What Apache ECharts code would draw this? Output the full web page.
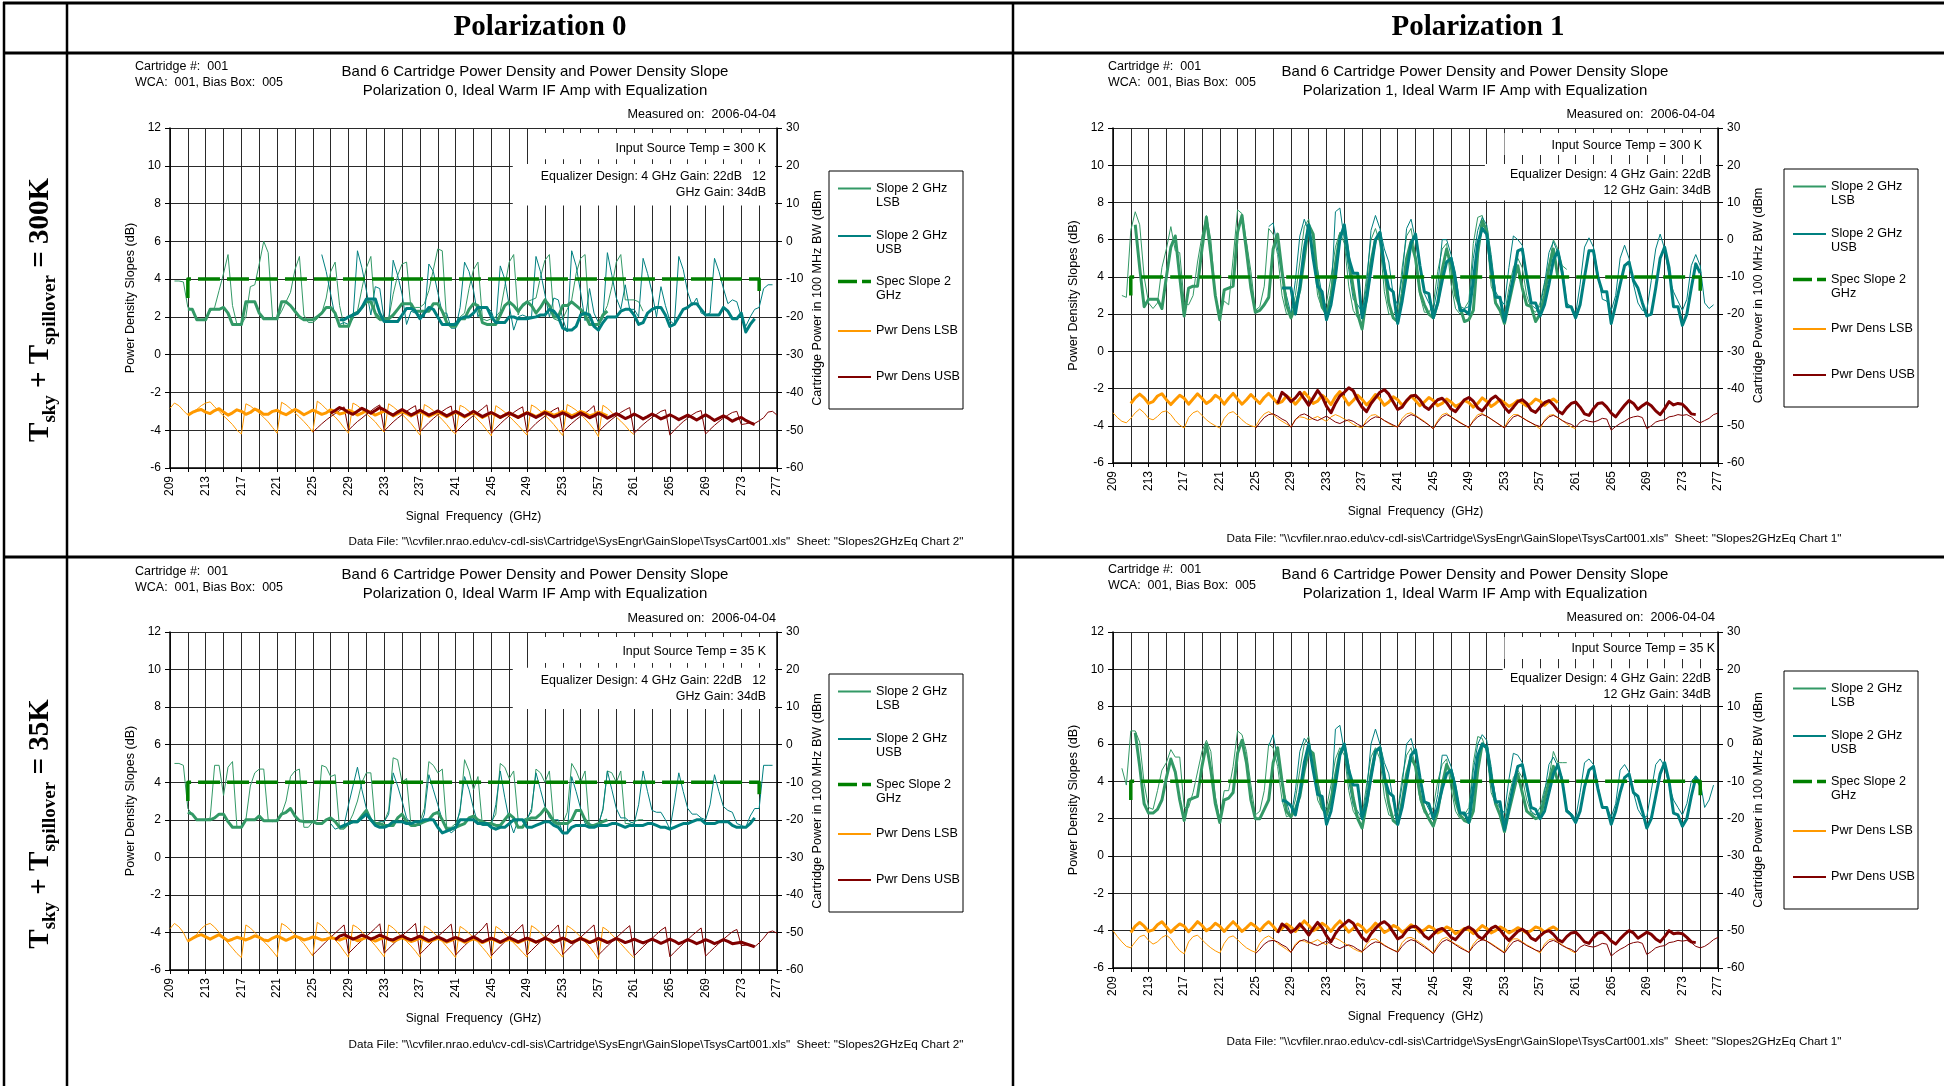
<!DOCTYPE html>
<html>
<head>
<meta charset="utf-8">
<title>Band 6 Cartridge Power Density and Power Density Slope</title>
<script src="https://cdn.jsdelivr.net/npm/echarts@6/dist/echarts.min.js"></script>
<style>
  html, body { margin: 0; padding: 0; background: #fff; }
  #chart { width: 1944px; height: 1086px; }
</style>
</head>
<body>
<div id="chart"></div>
<script>
// ---------------- axes ----------------
const FREQ_MIN = 209, FREQ_MAX = 277, FREQ_STEP = 0.5;   // GHz, traces are sampled every 0.5 GHz
const FREQ_LABELS = [209, 213, 217, 221, 225, 229, 233, 237, 241, 245, 249, 253, 257, 261, 265, 269, 273, 277];
const SLOPE_MIN = -6, SLOPE_MAX = 12, SLOPE_STEP = 2;      // dB
const PWR_MIN = -60, PWR_MAX = 30, PWR_STEP = 10;          // dBm

const SERIES_NAMES = ['Slope 2 GHz LSB', 'Slope 2 GHz USB', 'Spec Slope 2 GHz', 'Pwr Dens LSB', 'Pwr Dens USB'];
const LEGEND_LABELS = ['Slope 2 GHz\nLSB', 'Slope 2 GHz\nUSB', 'Spec Slope 2\nGHz', 'Pwr Dens LSB', 'Pwr Dens USB'];

// spec limit for the 2 GHz slope (dB)
const SPEC_SLOPE = [[211, 3], [211, 4], [275, 4], [275, 3]];

// ---------------- Polarization 0, 300 K ----------------
const P0_300K_SLOPE_LSB_RAW = [3.9,3.9,3.85,2.5,2.4,1.9,1.85,1.9,2.3,2.5,3.4,4.3,5.3,2.6,
  1.6,1.6,2.0,3.6,3.7,4.8,6.0,5.4, 1.9,1.9,2.3,2.8,3.3,4.5,5.2,2.1, 1.7,1.7,1.9,2.2,3.0,4.4,4.9,2.6,
  1.5,1.5,2.2,2.3,3.5,4.6,5.2,2.0, 1.8,1.8,1.9,3.2,4.2,4.8,4.9,2.4, 2.5,2.5,2.7,3.4,4.5,5.6,5.5,1.7,
  1.6,1.7,2.0,2.2,3.5,4.5,4.9,1.9, 1.8,1.9,2.0,2.3,3.6,4.9,5.3,2.1, 2.7,2.8,2.9,3.0,4.1,5.0,5.3,1.9,
  1.8,1.9,2.4,2.9,4.3,5.1,5.3,1.6, 1.5,1.6,2.1,2.6,3.6,4.9,5.3,2.9, 2.9,2.9,2.8,2.3];
const P0_300K_SLOPE_LSB_AVG = [2.4,2.4,1.85,1.85,1.85,2.4,2.4,2.4,2.5, 2.2,1.6,1.6,1.6,2.8,2.8,2.8,2.2,
  1.9,1.9,1.9,1.9,2.8,2.8,2.6,2.3, 2.0,1.85,1.85,1.85,2.0,2.2,2.5,2.5, 2.2,1.5,1.5,1.5,2.1,2.2,2.5,2.8,
  2.8,2.2,1.9,1.9,1.9,2.1,2.4,2.7, 2.7,2.7,2.3,2.3,2.3,2.3,2.7,2.7, 2.3,1.7,1.5,1.5,1.9,1.9,2.4,2.7,
  2.6,1.7,1.6,1.6,1.6,2.1,2.6,2.8, 2.6,2.3,2.6,2.8,2.6,2.2,2.5,2.9, 2.6,2.0,2.0,2.6,2.6,2.8,2.6,2.4,
  2.1,1.6,1.6,1.6,2.1,2.3];
const P0_300K_SLOPE_USB_RAW = [5.3,4.4,3.2,2.0,1.6,1.7,1.6,1.9, 5.5,4.6,3.4,2.1,3.6,3.5,1.8,1.7,
  5.0,4.2,3.2,1.6,2.3,2.2,2.1,2.0, 4.8,4.4,3.3,2.2,2.2,1.4,1.4,2.5, 4.9,4.4,3.4,2.0,2.5,2.5,2.3,1.6,
  4.7,4.0,2.6,1.3,2.0,2.1,2.0,2.0, 5.2,4.4,3.2,2.0,3.0,2.9,1.9,1.2, 5.5,4.7,3.3,1.8,3.5,2.2,1.7,1.9,
  5.4,4.2,3.0,2.4,3.7,2.4,2.4,2.0, 5.1,4.3,3.3,2.0,3.6,2.6,1.8,1.6, 5.2,4.5,3.3,2.6,3.0,2.2,2.1,2.2,
  5.1,4.4,3.5,2.7,2.9,2.8,2.0,1.5, 2.0,2.4,2.5,3.5,3.7,3.7];
const P0_300K_SLOPE_USB_AVG = [1.85,1.85,2.0,2.1,2.2,2.5,2.95,2.95, 2.95,2.2,1.75,1.75,1.75,1.75,2.1,2.45,
  2.45,2.3,1.9,2.2,2.5,2.4,2.0,1.6, 1.6,1.6,1.6,1.9,2.0,2.0,2.2,2.5, 2.5,2.5,2.0,1.7,1.7,1.7,2.0,2.0,
  1.9,1.9,1.9,1.95,2.0,2.1,2.1,2.4, 2.3,2.0,1.4,1.3,1.3,1.5,2.1,2.2, 2.1,1.5,1.3,1.7,2.0,2.0,2.0,2.3,
  2.4,2.4,2.1,1.6,1.7,2.2,2.4,2.5, 2.5,2.1,1.5,1.6,2.0,2.4,2.5,2.7, 2.7,2.4,2.1,2.1,2.1,2.1,2.5,2.3,
  1.9,1.9,2.2,1.2,1.6,1.9];
const P0_300K_PWR_LSB_RAW = [-44.2,-42.8,-43.5,-44.8,-46.0,-45.2,-44.5,-43.5, -42.8,-42.5,-43.8,-45.0,-46.2,-47.3,-48.5,-50.0,
  -51.0,-43.0,-43.6,-44.5,-45.5,-46.6,-47.8,-49.3, -50.8,-42.6,-43.3,-44.3,-45.4,-46.5,-47.7,-49.0,
  -50.5,-42.3,-43.2,-44.4,-45.5,-46.5,-47.8,-49.4, -50.8,-42.8,-43.5,-44.5,-45.6,-46.7,-47.8,-49.3,
  -50.5,-43.0,-43.8,-44.8,-45.8,-47.0,-48.2,-49.7, -51.3,-43.2,-43.9,-44.8,-46.0,-47.2,-48.5,-50.0,
  -51.0,-43.4,-44.0,-45.0,-46.0,-47.3,-48.5,-50.0, -51.5,-43.5,-44.3,-45.2,-46.3,-47.5,-48.7,-50.0,
  -51.3,-43.3,-44.0,-45.0,-46.0,-47.2,-48.5,-50.0, -51.4,-43.2,-43.9,-44.7,-45.8,-47.0,-48.3,-49.8,
  -51.7,-43.4,-44.2,-45.3,-46.5,-47.6,-48.8,-50.2, -51.2];
const P0_300K_PWR_LSB_AVG = [-46.0,-45.3,-44.8,-44.5,-45.2,-45.6,-44.8,-44.3, -45.2,-46.0,-45.4,-44.6,-45.0,-45.8,-45.3,-44.4,
  -44.9,-45.8,-45.8,-45.0,-44.7,-45.4,-45.9,-45.2, -44.5,-45.1,-45.9,-45.3,-44.7,-45.2,-45.8,-45.4,
  -44.6,-45.0,-45.7,-45.4,-44.7,-45.2,-46.0,-45.5, -44.8,-45.3,-46.0,-45.5,-44.9,-45.4,-46.2,-45.6,
  -45.0,-45.6,-46.2,-45.6,-45.1,-45.6,-46.3,-45.8, -45.2,-45.8,-46.4,-45.8,-45.2,-45.8,-46.5,-45.9,
  -45.3,-45.9,-46.6,-46.0,-45.4,-46.0,-46.6,-46.0, -45.4,-46.0,-46.6,-45.9,-45.3,-45.8,-46.4,-45.8,
  -45.0,-45.4,-46.1,-45.6,-45.0,-45.5,-46.2,-45.7, -45.0,-45.5,-46.2,-45.8,-45.2,-45.7,-46.2];
const P0_300K_PWR_USB_RAW = [-50.5,-49.4,-48.3,-47.3,-46.4,-45.6,-44.8,-43.8, -50.0,-48.8,-47.7,-46.8,-45.8,-44.9,-44.0,-43.3,
  -50.2,-49.0,-47.8,-46.8,-45.9,-45.0,-44.2,-43.5, -50.4,-49.2,-48.0,-46.9,-45.9,-45.0,-44.2,-43.6,
  -50.6,-49.4,-48.2,-47.1,-46.1,-45.2,-44.3,-43.3, -50.8,-49.5,-48.3,-47.2,-46.2,-45.3,-44.5,-43.8,
  -50.6,-49.4,-48.2,-47.2,-46.3,-45.4,-44.6,-44.0, -50.5,-49.3,-48.2,-47.2,-46.3,-45.5,-44.6,-43.5,
  -50.4,-49.2,-48.1,-47.1,-46.2,-45.3,-44.6,-44.0, -50.8,-49.6,-48.5,-47.5,-46.6,-45.8,-45.0,-44.6,
  -51.3,-50.0,-48.8,-47.7,-46.8,-45.9,-45.2,-44.8, -51.0,-49.8,-48.7,-47.7,-46.8,-46.0,-45.3,-45.0,
  -48.5,-48.3,-48.0,-48.2,-47.5,-46.7,-45.2,-45.0,-46.0];
const P0_300K_PWR_USB_AVG = [-45.5,-44.8,-44.0,-44.5,-45.3,-45.8,-45.0,-44.2, -44.8,-45.5,-44.8,-44.0,-44.6,-45.4,-46.0,-45.2,
  -44.5,-45.2,-46.0,-45.4,-44.7,-45.3,-46.0,-45.5, -44.9,-45.5,-46.2,-45.6,-45.0,-45.6,-46.3,-45.7,
  -45.0,-45.7,-46.4,-45.8,-45.3,-45.9,-46.6,-46.0, -45.4,-46.0,-46.6,-46.0,-45.4,-46.0,-46.6,-46.0,
  -45.3,-45.9,-46.5,-46.0,-45.4,-46.0,-46.7,-46.1, -45.4,-46.0,-46.7,-46.2,-45.5,-46.1,-46.8,-46.2,
  -45.6,-46.2,-46.9,-46.4,-45.7,-46.3,-47.0,-46.4, -45.7,-46.3,-47.0,-46.5,-45.9,-46.5,-47.2,-46.6,
  -46.0,-46.6,-47.3,-46.6,-45.9,-46.6,-47.4,-46.8, -46.2,-46.8,-47.6,-47.0,-46.6,-47.4,-48.0,-48.5];

// ---------------- Polarization 1, 300 K ----------------
const P1_300K_SLOPE_LSB_RAW = [3.0,2.9,6.5,7.5,6.8,4.0,2.6,2.3, 2.6,4.5,5.5,6.7,5.4,5.3,2.6,2.5,
  3.0,4.8,6.2,7.3,6.0,3.0,2.0,2.7, 2.5,5.0,7.6,7.4,5.9,4.3,2.2,2.4, 3.5,6.6,6.3,5.2,3.0,2.0,2.0,3.0,
  4.8,6.7,7.1,5.2,3.0,2.3,2.6,4.0, 5.6,6.4,5.8,3.5,2.2,1.8,2.1,4.0, 6.0,6.6,5.8,3.2,2.0,2.0,2.3,4.5,
  6.2,6.6,5.2,3.0,2.1,2.1,2.5,4.3, 5.5,5.8,3.6,2.3,2.0,2.3,2.7,5.8, 7.2,7.3,6.3,3.5,2.9,2.8,2.0,3.4,
  4.5,5.0,4.5,3.0,2.3,2.1,2.6,3.7, 4.6,6.0,5.5,4.6,4.4];
const P1_300K_SLOPE_LSB_AVG = [6.8,4.5,2.4,2.8,2.8,2.8,2.3,4.0, 5.6,6.2,4.0,1.9,3.4,3.5,3.5,5.5,
  7.2,5.2,3.0,1.7,3.3,3.4,3.5,6.4, 7.3,5.4,3.4,2.1,2.2,2.5,2.9,5.5, 6.3,4.3,2.5,1.8,2.4,3.3,5.0,6.8,
  6.3,3.8,2.4,2.0,3.0,4.7,6.2,6.6, 5.0,3.4,2.0,1.2,2.9,4.8,6.0,6.2, 4.5,2.6,1.8,1.6,3.1,5.0,5.9,5.0,
  3.2,2.5,2.0,1.8,2.6,4.4,5.5,4.6, 3.0,2.4,1.6,1.7,2.2,5.3,7.0,6.5, 4.5,2.6,2.2,1.5,2.6,3.7,4.6,3.4,
  2.5,2.4,1.6,2.0,3.0,4.5,5.5,4.0];
const P1_300K_SLOPE_USB_RAW = [6.7,6.9,5.5,4.0,3.0,2.0,3.8,6.2, 7.1,6.4,5.0,4.4,3.0,2.2,2.8,7.5,
  7.7,6.0,4.4,2.8,2.5,2.1,3.5,6.5, 7.3,6.6,5.5,4.8,3.0,2.5,4.0,6.6, 7.1,6.0,4.5,3.1,2.6,2.2,3.5,6.0,
  6.0,5.2,4.2,2.4,2.3,2.4,5.0,6.5, 7.2,6.8,5.2,3.2,2.8,2.5,4.5,6.2, 6.0,5.7,4.0,2.5,2.3,2.4,3.6,5.3,
  5.9,5.3,4.5,2.6,2.4,2.0,3.6,5.6, 6.1,5.6,4.2,2.8,2.7,2.2,3.0,5.0, 5.7,5.0,3.6,2.6,2.2,2.2,3.8,5.5,
  6.3,5.5,4.0,3.2,2.7,2.2,2.8,4.6, 5.2,4.6,2.6,2.3,2.5];
const P1_300K_SLOPE_USB_AVG = [3.4,3.4,3.4,2.0,3.5,5.5,6.8,5.0, 3.5,3.2,1.7,2.5,4.0,6.0,6.8,5.0,
  4.2,4.2,1.8,2.8,4.4,6.0,6.4,4.5, 3.4,3.2,1.5,2.7,4.2,5.8,6.3,4.6, 3.2,3.1,1.8,2.6,3.8,4.8,5.0,3.8,
  2.2,2.2,2.0,3.8,5.8,6.6,6.3,4.5, 2.9,2.9,1.6,2.8,4.0,5.4,5.5,4.0, 2.6,2.6,1.9,2.5,3.6,4.9,5.4,4.2,
  2.4,2.4,1.8,2.5,4.0,5.4,5.4,4.0, 3.2,3.2,1.5,2.5,3.6,4.6,4.8,3.8, 3.4,2.6,1.9,2.0,3.4,5.0,5.6,4.5,
  2.4,2.4,1.4,2.0,3.4,4.7,4.2];
const P1_300K_PWR_LSB_RAW = [-46.5,-47.8,-48.8,-49.2,-48.0,-46.5,-45.5,-46.5, -48.0,-48.4,-47.5,-46.3,-46.0,-47.0,-48.6,-49.8,
  -50.6,-47.8,-46.5,-46.0,-47.2,-48.4,-49.3,-50.0, -50.6,-48.0,-46.6,-46.2,-47.2,-48.4,-49.4,-50.0,
  -50.3,-48.2,-46.8,-46.2,-47.0,-48.0,-48.8,-49.5, -50.3,-48.3,-47.6,-47.8,-48.4,-48.0,-47.5,-48.2,
  -48.8,-47.6,-47.0,-47.5,-48.2,-48.8,-49.6,-50.2, -50.6,-48.4,-47.2,-47.0,-47.8,-48.6,-49.4,-50.0,
  -50.3,-48.0,-46.8,-46.5,-47.2,-48.0,-48.8,-49.8, -50.8,-48.6,-47.0,-46.6,-47.5,-48.3,-49.0,-49.8,
  -50.6,-48.5,-47.0,-46.7,-47.5,-48.2,-49.0,-49.8, -50.5,-48.2,-47.0,-47.0,-47.8,-48.5,-49.2,-50.0,
  -50.8,-48.5,-47.2,-47.0,-47.8,-48.6,-49.5,-50.3,-50.8];
const P1_300K_PWR_LSB_AVG = [-44.0,-42.5,-41.5,-42.5,-44.0,-43.5,-42.0,-41.4, -43.0,-44.3,-43.0,-41.8,-42.6,-44.2,-42.8,-41.4,
  -42.6,-44.0,-43.2,-41.8,-42.6,-44.2,-42.6,-41.3, -42.8,-44.2,-43.0,-41.6,-42.8,-44.0,-42.4,-41.3,
  -42.6,-44.0,-43.5,-42.0,-42.8,-44.2,-42.8,-41.0, -42.4,-44.0,-43.4,-41.8,-42.8,-44.3,-42.2,-40.8,
  -42.5,-44.4,-43.2,-41.8,-42.9,-44.4,-43.2,-41.6, -42.8,-44.5,-43.6,-42.2,-43.0,-44.5,-43.4,-42.0,
  -43.2,-44.6,-43.6,-42.4,-43.2,-44.6,-44.0,-42.8, -43.6,-44.8,-44.2,-43.2,-43.8,-45.0,-44.0,-42.5,
  -43.4,-44.8,-44.0,-43.0,-43.8,-44.8,-44.2,-43.2, -43.8,-44.7,-44.0,-42.8,-43.4,-44.5,-43.5,-42.8,-43.8];
const P1_300K_PWR_USB_RAW = [-50.8,-49.2,-47.8,-47.0,-46.8,-47.4,-48.2,-48.8, -50.4,-48.4,-47.2,-46.8,-47.4,-48.2,-48.6,-48.0,
  -47.4,-48.2,-49.0,-49.4,-48.8,-48.4,-48.8,-49.6, -50.2,-49.2,-48.2,-47.6,-47.8,-48.6,-49.2,-49.8,
  -50.4,-48.8,-47.6,-47.0,-47.4,-48.2,-49.0,-49.8, -50.8,-49.0,-47.6,-47.0,-47.6,-48.4,-49.2,-49.8,
  -50.4,-48.8,-47.6,-47.0,-47.4,-48.2,-49.0,-49.8, -50.6,-49.0,-47.6,-47.2,-47.8,-48.6,-49.2,-49.8,
  -50.2,-48.8,-47.6,-47.2,-47.8,-48.6,-49.2,-49.6, -50.4,-49.0,-48.4,-48.8,-49.0,-48.6,-48.0,-48.2,
  -51.2,-50.2,-49.4,-48.8,-48.0,-47.6,-47.4,-47.8, -50.8,-50.0,-49.0,-48.6,-48.4,-47.6,-47.4,-47.0,
  -47.2,-47.0,-47.6,-48.6,-49.2,-48.6,-48.0,-47.0,-46.6];
const P1_300K_PWR_USB_AVG = [-44.0,-41.0,-42.0,-43.5,-42.5,-41.0,-42.8,-44.5, -42.5,-40.5,-42.2,-44.8,-46.5,-44.0,-42.0,-41.0,
  -39.8,-40.6,-43.0,-45.0,-46.2,-44.0,-42.5,-41.0, -40.3,-41.5,-43.6,-45.6,-45.0,-43.2,-42.0,-41.8,
  -43.0,-44.8,-45.6,-44.2,-43.0,-42.6,-43.8,-45.5, -46.2,-44.6,-43.0,-42.4,-43.4,-45.2,-46.0,-44.5,
  -42.8,-42.0,-43.2,-45.0,-46.4,-45.0,-43.5,-43.0, -44.0,-45.8,-46.4,-45.0,-43.8,-43.2,-44.4,-46.0,
  -46.8,-45.2,-44.0,-43.6,-45.0,-46.8,-47.2,-45.4, -44.0,-43.8,-45.0,-46.6,-47.6,-46.0,-44.5,-43.2,
  -44.0,-45.6,-44.6,-43.8,-44.6,-46.0,-47.0,-45.4, -43.5,-44.4,-44.0,-44.2,-45.4,-46.8,-47.0];

// ---------------- Polarization 0, 35 K ----------------
const P0_35K_SLOPE_LSB_RAW = [5.0,5.0,4.9,2.6,2.3,2.0,2.0,2.0, 2.1,4.9,4.9,3.3,4.8,5.1,1.6,1.6,
  2.0,3.8,4.5,4.7,4.7,2.0,1.9,2.0, 2.3,3.0,4.3,4.6,4.7,1.6,1.6,1.9, 2.0,4.9,4.8,4.3,4.4,1.5,1.5,1.8,
  2.3,3.0,4.0,4.5,4.5,1.7,1.7,1.9, 2.5,5.3,5.2,4.0,4.2,1.7,1.7,1.9, 2.6,5.1,4.9,4.5,4.7,1.6,1.6,1.8,
  2.4,5.2,4.6,3.6,4.3,1.7,1.7,1.9, 2.3,5.0,4.8,4.2,4.6,2.0,2.0,2.1, 2.4,4.7,4.5,4.0,4.6,1.8,1.7,1.8,
  2.4,5.0,4.6,4.0,4.6,1.6,1.7,1.8, 2.5,4.6,4.5,4.0,4.6,1.8,1.8,1.9, 2.0,2.0];
const P0_35K_SLOPE_LSB_AVG = [2.4,2.3,2.0,2.0,2.0,2.0,2.1,2.3, 2.3,1.9,1.6,1.6,1.6,2.0,2.0,2.0,
  2.2,1.95,1.95,1.95,1.95,2.3,2.4,2.6, 2.2,1.95,1.9,1.9,1.9,1.8,1.8,2.0, 2.1,1.9,1.6,1.6,1.8,1.9,1.9,2.2,
  2.5,2.0,1.8,1.8,1.7,1.7,1.7,2.1, 2.3,1.9,1.7,1.7,1.8,1.9,2.0,2.3, 2.4,2.0,1.5,1.5,1.6,1.7,1.8,2.1,
  2.2,2.0,1.9,1.8,1.8,1.7,1.7,2.0, 2.3,2.1,1.6,1.6,2.0,2.1,2.1,2.3, 2.6,2.3,1.9,1.8,1.8,1.8,2.0,2.5,
  2.5,2.0,1.7,1.7,1.8,1.9,2.0];
const P0_35K_SLOPE_USB_RAW = [1.8,1.5,1.6,1.7,2.8,3.8,4.8,3.6, 2.6,2.0,1.8,1.9,1.9,2.3,4.5,3.8,
  3.0,2.1,1.8,1.7,1.7,2.3,4.4,3.6, 2.8,2.0,1.6,1.3,1.5,2.6,4.3,3.6, 2.6,1.8,1.7,1.7,1.7,2.8,4.6,3.2,
  2.0,1.3,2.0,2.0,2.0,2.6,4.5,3.6, 2.7,2.1,2.0,2.0,1.3,1.3,4.3,3.5, 2.6,1.8,1.8,1.7,1.7,2.6,4.6,3.6,
  2.6,2.1,2.1,1.9,1.8,2.8,4.6,3.5, 2.5,2.4,2.4,2.0,1.5,2.9,4.5,3.5, 2.6,2.3,2.3,2.1,2.0,2.8,4.4,3.5,
  2.7,2.5,2.4,1.8,1.7,1.6,2.2,2.6, 2.6,4.9,4.9,4.9];
const P0_35K_SLOPE_USB_AVG = [1.6,1.7,1.8,1.9,1.9,2.1,2.3,2.0, 1.7,1.6,1.6,1.7,1.9,1.9,1.9,1.8,
  1.8,1.9,1.9,2.0,2.0,2.0,1.6,1.3, 1.4,1.5,1.6,2.0,2.0,2.0,2.0,1.8, 1.8,1.8,1.6,1.5,1.6,1.6,1.8,2.0,
  2.0,2.0,1.6,1.6,1.7,1.8,1.9,1.9, 1.7,1.6,1.3,1.3,1.6,1.7,1.7,1.7, 1.6,1.6,1.7,1.7,1.7,1.8,1.8,1.7,
  1.6,1.7,1.7,1.7,1.7,1.8,1.8,1.7, 1.6,1.6,1.5,1.6,1.7,1.8,1.8,1.9, 2.0,2.0,1.8,1.8,1.8,1.9,1.9,1.9,
  1.7,1.6,1.6,1.6,1.8,2.1];
const P0_35K_PWR_LSB_RAW = [-49.0,-47.6,-48.5,-50.0,-52.5,-51.5,-50.5,-49.0, -48.0,-47.6,-48.6,-50.0,-51.4,-52.8,-54.2,-55.6,
  -56.7,-48.0,-48.8,-50.0,-51.2,-52.4,-53.6,-55.0, -56.5,-47.6,-48.3,-49.4,-50.6,-51.8,-53.0,-54.6,
  -56.3,-47.3,-48.2,-49.5,-50.7,-52.0,-53.3,-55.0, -56.6,-48.0,-48.7,-49.8,-51.0,-52.2,-53.5,-55.0,
  -56.5,-48.0,-48.8,-50.0,-51.2,-52.4,-53.6,-55.0, -56.6,-48.3,-49.0,-50.0,-51.2,-52.4,-53.8,-55.2,
  -56.7,-48.4,-49.2,-50.2,-51.4,-52.6,-54.0,-55.4, -57.0,-48.4,-49.2,-50.3,-51.5,-52.8,-54.0,-55.3,
  -56.6,-48.2,-49.0,-50.1,-51.3,-52.5,-53.8,-55.2, -56.6,-48.2,-49.0,-50.0,-51.2,-52.5,-53.8,-55.4,
  -57.2,-48.6,-49.4,-50.6,-51.8,-53.0,-54.3,-55.6,-56.8];
const P0_35K_PWR_LSB_AVG = [-52.3,-51.6,-51.0,-50.6,-51.2,-51.8,-51.2,-50.6, -51.4,-52.2,-51.8,-51.3,-51.6,-52.0,-51.5,-50.9,
  -51.3,-52.0,-52.2,-51.5,-51.0,-51.5,-52.1,-51.6, -51.0,-51.4,-52.0,-51.7,-51.2,-51.5,-52.0,-51.8,
  -51.4,-51.6,-52.0,-51.6,-51.2,-51.6,-52.2,-51.8, -51.3,-51.7,-52.3,-51.8,-51.3,-51.8,-52.4,-51.9,
  -51.4,-51.9,-52.4,-52.0,-51.5,-52.0,-52.5,-52.0, -51.6,-52.0,-52.6,-52.1,-51.6,-52.0,-52.6,-52.2,
  -51.7,-52.1,-52.7,-52.2,-51.7,-52.2,-52.7,-52.2, -51.8,-52.2,-52.7,-52.2,-51.7,-52.1,-52.6,-52.1,
  -51.6,-52.0,-52.6,-52.1,-51.6,-52.1,-52.6,-52.2, -51.6,-52.0,-52.6,-52.3,-51.8,-52.1,-52.5];
const P0_35K_PWR_USB_RAW = [-56.0,-54.8,-53.6,-52.4,-51.3,-50.2,-49.1,-48.0, -55.6,-54.4,-53.2,-52.1,-51.0,-50.0,-48.9,-47.7,
  -55.5,-54.3,-53.1,-52.0,-50.9,-49.8,-48.8,-47.6, -55.8,-54.6,-53.4,-52.2,-51.1,-50.0,-48.9,-47.8,
  -56.0,-54.7,-53.5,-52.4,-51.2,-50.1,-49.0,-47.5, -56.2,-54.9,-53.7,-52.5,-51.3,-50.2,-49.1,-47.9,
  -56.0,-54.8,-53.6,-52.5,-51.4,-50.3,-49.2,-48.0, -55.9,-54.7,-53.5,-52.4,-51.3,-50.2,-49.1,-48.0,
  -56.0,-54.8,-53.6,-52.5,-51.4,-50.3,-49.2,-48.2, -56.2,-55.0,-53.8,-52.7,-51.6,-50.5,-49.4,-48.6,
  -56.5,-55.3,-54.1,-53.0,-51.9,-50.8,-49.8,-48.8, -56.3,-55.1,-54.0,-52.9,-51.8,-50.8,-49.8,-49.2,
  -53.5,-53.4,-53.2,-53.8,-52.8,-51.5,-50.0,-49.6,-50.2];
const P0_35K_PWR_USB_AVG = [-52.0,-51.0,-50.6,-51.2,-51.8,-51.3,-50.7,-51.2, -51.8,-51.3,-50.7,-51.2,-51.8,-52.0,-51.4,-50.9,
  -51.5,-52.0,-51.5,-51.0,-51.6,-52.2,-51.7,-51.2, -51.7,-52.3,-51.8,-51.3,-51.8,-52.3,-51.8,-51.2,
  -51.8,-52.5,-52.0,-51.5,-52.0,-52.6,-52.0,-51.4, -51.9,-52.5,-52.0,-51.5,-52.0,-52.6,-52.1,-51.5,
  -52.0,-52.6,-52.1,-51.5,-52.0,-52.7,-52.2,-51.6, -52.1,-52.7,-52.2,-51.6,-52.1,-52.7,-52.2,-51.6,
  -52.1,-52.7,-52.3,-51.8,-52.3,-52.8,-52.3,-51.8, -52.3,-52.9,-52.4,-51.8,-52.3,-53.0,-52.5,-51.9,
  -52.4,-53.0,-52.5,-51.9,-52.4,-53.0,-52.5,-51.9, -52.4,-53.0,-52.8,-52.6,-53.0,-53.4,-53.8];

// ---------------- Polarization 1, 35 K ----------------
const P1_35K_SLOPE_LSB_RAW = [4.7,3.8,6.7,6.7,6.1,3.9,2.6,2.5, 3.5,4.6,5.0,5.7,5.3,5.3,2.6,2.6,
  3.4,4.5,5.6,6.2,5.6,3.2,2.0,3.5, 3.5,4.8,6.7,6.5,5.6,3.8,2.2,2.4, 3.5,6.0,5.8,4.8,3.0,2.1,2.2,3.0,
  4.6,6.0,6.4,4.8,3.0,2.5,2.6,3.8, 5.2,5.8,5.4,3.5,2.4,2.0,2.2,3.8, 5.3,5.8,5.2,3.2,2.2,2.1,2.4,4.2,
  5.4,5.8,4.8,3.0,2.3,2.2,2.6,4.0, 4.9,5.2,3.6,2.4,2.0,2.2,2.6,5.0, 6.4,6.3,5.6,3.4,2.8,2.6,1.9,3.2,
  4.2,4.6,4.2,3.0,2.3,2.2,2.6,3.6, 4.2,5.6,5.0,5.0,5.0];
const P1_35K_SLOPE_LSB_AVG = [6.6,4.8,2.8,2.3,2.3,2.5,3.0,4.2, 5.2,4.5,3.0,1.9,3.0,3.1,3.2,4.8,
  6.0,4.6,2.8,1.8,3.0,3.1,3.4,5.5, 6.2,5.0,3.0,2.0,2.0,2.5,3.0,5.0, 5.8,4.0,2.4,2.1,2.5,3.2,4.6,5.7,
  5.5,3.8,2.6,2.2,3.0,4.3,5.5,5.9, 4.6,3.1,2.0,1.5,2.8,4.4,5.6,5.8, 4.3,2.8,1.9,1.7,2.9,4.4,5.3,4.8,
  3.3,2.5,2.0,1.6,2.4,3.8,4.9,4.4, 3.0,2.2,1.9,1.8,2.4,4.6,6.0,5.8, 4.2,2.8,2.2,1.3,2.4,3.4,4.4,3.4,
  2.4,2.2,2.0,2.1,3.0,4.0,4.8,4.0];
const P1_35K_SLOPE_USB_RAW = [5.9,6.5,5.2,3.8,2.9,2.1,3.5,5.6, 6.3,6.0,4.6,4.0,2.9,2.2,2.8,6.8,
  7.0,5.6,4.0,2.7,2.4,2.0,3.4,6.0, 6.8,6.0,5.0,4.4,2.9,2.3,3.8,6.0, 6.3,5.4,4.2,3.0,2.5,2.1,3.3,5.4,
  5.4,4.8,3.9,2.3,2.2,2.3,4.6,6.0, 6.5,6.2,4.8,3.0,2.6,2.3,4.1,5.5, 5.4,5.0,3.6,2.4,2.2,2.3,3.4,4.9,
  5.3,4.8,4.2,2.5,2.3,2.0,3.4,5.0, 5.2,4.9,3.8,2.6,2.6,2.1,2.8,4.6, 4.9,4.5,3.4,2.5,2.1,2.1,3.5,4.9,
  5.2,4.8,3.8,3.0,2.6,2.2,2.8,4.0, 4.3,4.0,2.6,3.0,3.8];
const P1_35K_SLOPE_USB_AVG = [3.0,2.9,2.7,2.2,3.4,5.0,6.0,4.6, 3.3,3.2,1.7,2.4,3.8,5.4,6.0,4.6,
  3.8,3.8,2.0,2.8,4.2,5.6,5.8,4.2, 3.4,3.2,1.7,2.6,4.0,5.4,5.7,4.2, 2.9,2.8,2.0,2.6,3.6,4.4,4.6,3.6,
  2.3,2.3,1.8,3.6,5.4,6.0,5.8,4.2, 2.9,2.9,1.4,2.6,3.8,4.8,4.9,3.8, 2.6,2.5,2.0,2.4,3.4,4.4,4.9,4.0,
  2.4,2.2,1.8,2.4,3.7,4.6,4.8,3.6, 2.6,2.6,1.7,2.4,3.4,4.2,4.4,3.4, 3.2,2.4,1.5,2.0,3.2,4.4,5.0,4.0,
  2.3,2.2,1.6,2.0,3.2,4.2,3.8];
const P1_35K_PWR_LSB_RAW = [-50.0,-51.6,-53.0,-54.2,-54.6,-53.0,-51.6,-51.2, -52.6,-53.6,-53.0,-51.8,-51.2,-52.2,-54.0,-55.4,
  -56.2,-53.0,-51.6,-51.2,-52.4,-53.6,-54.6,-55.4, -56.0,-53.4,-51.8,-51.4,-52.4,-53.6,-54.6,-55.3,
  -55.8,-53.4,-52.0,-51.4,-52.2,-53.4,-54.2,-55.0, -55.8,-53.6,-52.6,-52.8,-53.4,-53.0,-52.4,-53.2,
  -53.8,-52.6,-52.0,-52.6,-53.4,-54.0,-54.8,-55.4, -55.8,-53.6,-52.4,-52.2,-53.0,-53.8,-54.6,-55.2,
  -55.6,-53.2,-52.0,-51.8,-52.4,-53.2,-54.0,-55.0, -56.0,-53.8,-52.2,-51.8,-52.8,-53.6,-54.2,-55.0,
  -55.8,-53.6,-52.2,-52.0,-52.8,-53.4,-54.2,-55.0, -55.8,-53.4,-52.2,-52.2,-53.0,-53.8,-54.4,-55.2,
  -56.0,-53.6,-52.4,-52.2,-53.0,-53.8,-54.6,-55.4,-56.0];
const P1_35K_PWR_LSB_AVG = [-50.5,-48.8,-47.8,-48.8,-50.2,-49.8,-48.4,-47.6, -49.0,-50.4,-49.2,-48.2,-48.8,-50.3,-49.0,-47.6,
  -48.6,-50.0,-49.3,-48.0,-48.8,-50.2,-48.8,-47.6, -48.8,-50.2,-49.2,-48.0,-48.8,-50.0,-48.6,-47.6,
  -48.8,-50.2,-49.4,-48.2,-49.0,-50.2,-48.8,-47.4, -48.6,-50.0,-49.4,-48.0,-48.8,-50.2,-48.6,-47.4,
  -48.8,-50.4,-49.4,-48.2,-49.0,-50.4,-49.4,-48.0, -49.0,-50.5,-49.8,-48.6,-49.2,-50.4,-49.6,-48.4,
  -49.2,-50.4,-49.8,-48.8,-49.4,-50.6,-50.0,-49.0, -49.6,-50.8,-50.2,-49.4,-49.8,-50.8,-49.8,-48.6,
  -49.4,-50.6,-50.0,-49.0,-49.6,-50.6,-50.0,-49.2, -49.8,-50.6,-50.0,-49.0,-49.4,-50.4,-49.6,-49.0,-49.8];
const P1_35K_PWR_USB_RAW = [-56.2,-55.0,-53.6,-52.8,-52.6,-53.0,-53.8,-54.4, -55.8,-54.0,-52.8,-52.4,-53.0,-53.6,-54.0,-53.4,
  -52.8,-53.6,-54.4,-54.8,-54.2,-53.8,-54.2,-55.0, -55.6,-54.6,-53.6,-53.0,-53.2,-54.0,-54.6,-55.2,
  -55.8,-54.2,-53.0,-52.4,-52.8,-53.6,-54.4,-55.2, -56.2,-54.4,-53.0,-52.4,-53.0,-53.8,-54.6,-55.2,
  -55.8,-54.2,-53.0,-52.4,-52.8,-53.6,-54.4,-55.2, -56.0,-54.4,-53.0,-52.6,-53.2,-54.0,-54.6,-55.2,
  -55.6,-54.2,-53.0,-52.6,-53.2,-54.0,-54.6,-55.0, -55.8,-54.4,-53.8,-54.2,-54.4,-54.0,-53.4,-53.6,
  -56.8,-55.8,-55.0,-54.4,-53.6,-53.2,-53.0,-53.4, -56.4,-55.6,-54.6,-54.2,-54.0,-53.2,-53.0,-52.6,
  -52.8,-52.6,-53.2,-54.2,-54.6,-54.2,-53.4,-52.4,-51.8];
const P1_35K_PWR_USB_AVG = [-50.6,-48.2,-49.0,-50.4,-49.6,-48.2,-49.6,-51.2, -49.4,-47.8,-49.2,-51.4,-53.0,-50.8,-49.2,-48.2,
  -47.2,-48.0,-50.0,-51.8,-52.8,-50.8,-49.4,-48.2, -47.6,-48.6,-50.4,-52.2,-51.6,-50.0,-49.0,-48.8,
  -49.8,-51.4,-52.2,-51.0,-49.8,-49.4,-50.4,-51.8, -52.4,-51.0,-49.6,-49.0,-49.8,-51.4,-52.2,-50.8,
  -49.4,-48.8,-49.8,-51.4,-52.6,-51.4,-50.2,-49.6, -50.4,-52.0,-52.6,-51.4,-50.4,-50.0,-51.0,-52.4,
  -53.0,-51.6,-50.6,-50.4,-51.6,-53.0,-53.4,-51.8, -50.6,-50.4,-51.4,-52.8,-53.6,-52.2,-51.0,-50.0,
  -50.6,-52.0,-51.2,-50.4,-51.0,-52.2,-53.0,-51.6, -50.0,-50.8,-50.6,-50.8,-51.8,-53.0,-53.2];

// ---------------- styling ----------------
const SANS = '"Liberation Sans", Arial, sans-serif';
const SERIF = '"Liberation Serif", "Times New Roman", serif';
const C_LSB = '#339966', C_USB = '#008080', C_SPEC = '#008000', C_PLSB = '#ff9900', C_PUSB = '#800000';
const GRID_LINE = '#2a2a2a';

// chart layout: plot rectangles and text anchors for the four charts (pixels)
const PANELS = [
  { pol: 0, src: '300 K', sheet: 'Chart 2', x0: 170, x1: 777, y0: 128, y1: 468,
    info: [135, 67], title: [535, 72], meas: [776, 115], temp: [766, 149], eq: [766, 177],
    legend: [829, 171], footer: [656, 542], box1: [250, 11.73, 10.35], box2: [247.4, 10.1, 7.9] },
  { pol: 1, src: '300 K', sheet: 'Chart 1', x0: 1113, x1: 1718, y0: 128, y1: 463,
    info: [1108, 67], title: [1475, 72], meas: [1715, 115], temp: [1702, 146], eq: [1711, 175],
    legend: [1784, 169], footer: [1534, 539], box1: [253, 11.73, 10.55], box2: [250.8, 10.06, 8.1] },
  { pol: 0, src: '35 K', sheet: 'Chart 2', x0: 170, x1: 777, y0: 632, y1: 970,
    info: [135, 572], title: [535, 575], meas: [776, 619], temp: [766, 652], eq: [766, 681],
    legend: [829, 674], footer: [656, 1045], box1: [250, 11.73, 10.35], box2: [247.4, 10.1, 7.9] },
  { pol: 1, src: '35 K', sheet: 'Chart 1', x0: 1113, x1: 1718, y0: 632, y1: 968,
    info: [1108, 570], title: [1475, 575], meas: [1715, 618], temp: [1715, 649], eq: [1711, 679],
    legend: [1784, 671], footer: [1534, 1042], box1: [253, 11.73, 10.55], box2: [252.8, 10.06, 8.1] }
];

// traces per chart: [first frequency, values]
const TRACES = [
  { lsbRaw: [209.5, P0_300K_SLOPE_LSB_RAW], lsbAvg: [211, P0_300K_SLOPE_LSB_AVG],
    usbRaw: [226, P0_300K_SLOPE_USB_RAW], usbAvg: [228, P0_300K_SLOPE_USB_AVG],
    pLsbRaw: [209, P0_300K_PWR_LSB_RAW], pLsbAvg: [211, P0_300K_PWR_LSB_AVG],
    pUsbRaw: [225, P0_300K_PWR_USB_RAW], pUsbAvg: [227, P0_300K_PWR_USB_AVG] },
  { lsbRaw: [210, P1_300K_SLOPE_LSB_RAW], lsbAvg: [211.5, P1_300K_SLOPE_LSB_AVG],
    usbRaw: [226.5, P1_300K_SLOPE_USB_RAW], usbAvg: [228, P1_300K_SLOPE_USB_AVG],
    pLsbRaw: [209, P1_300K_PWR_LSB_RAW], pLsbAvg: [211, P1_300K_PWR_LSB_AVG],
    pUsbRaw: [225, P1_300K_PWR_USB_RAW], pUsbAvg: [227.5, P1_300K_PWR_USB_AVG] },
  { lsbRaw: [209.5, P0_35K_SLOPE_LSB_RAW], lsbAvg: [211, P0_35K_SLOPE_LSB_AVG],
    usbRaw: [227, P0_35K_SLOPE_USB_RAW], usbAvg: [228, P0_35K_SLOPE_USB_AVG],
    pLsbRaw: [209, P0_35K_PWR_LSB_RAW], pLsbAvg: [211, P0_35K_PWR_LSB_AVG],
    pUsbRaw: [225, P0_35K_PWR_USB_RAW], pUsbAvg: [227.5, P0_35K_PWR_USB_AVG] },
  { lsbRaw: [210, P1_35K_SLOPE_LSB_RAW], lsbAvg: [211.5, P1_35K_SLOPE_LSB_AVG],
    usbRaw: [226.5, P1_35K_SLOPE_USB_RAW], usbAvg: [228, P1_35K_SLOPE_USB_AVG],
    pLsbRaw: [209, P1_35K_PWR_LSB_RAW], pLsbAvg: [211, P1_35K_PWR_LSB_AVG],
    pUsbRaw: [225, P1_35K_PWR_USB_RAW], pUsbAvg: [227.5, P1_35K_PWR_USB_AVG] }
];

const toPoints = (start, values) => values.map((v, i) => [start + i * FREQ_STEP, v]);

function trace(name, gi, yi, pts, color, width, z, dash) {
  return {
    type: 'line', name, xAxisIndex: gi, yAxisIndex: yi, data: pts, z,
    showSymbol: false, symbol: 'none', silent: true, animation: false,
    lineStyle: { color, width, type: dash || 'solid', cap: 'butt', join: 'round' },
    itemStyle: { color }, emphasis: { disabled: true }
  };
}

// ---------------- axes, grids, series ----------------
const AXIS_FONT = { fontFamily: SANS, fontSize: 12.6, color: '#000' };
const grids = [], xAxes = [], yAxes = [], series = [];
PANELS.forEach((p, gi) => {
  grids.push({ left: p.x0, top: p.y0, width: p.x1 - p.x0, height: p.y1 - p.y0, show: false });
  xAxes.push({
    gridIndex: gi, type: 'value', min: FREQ_MIN, max: FREQ_MAX, interval: 2,
    name: 'Signal  Frequency  (GHz)', nameLocation: 'middle', nameGap: 43,
    nameTextStyle: { fontFamily: SANS, fontSize: 12, color: '#000' },
    axisLine: { show: true, onZero: false, lineStyle: { color: '#000', width: 1.5 } },
    axisTick: { show: true, length: 4, lineStyle: { color: '#000', width: 1 } },
    axisLabel: { rotate: 90, margin: 8, fontFamily: SANS, fontSize: 12, color: '#000',
      showMinLabel: true, showMaxLabel: true,
      formatter: v => FREQ_LABELS.includes(v) ? String(v) : '' },
    splitLine: { show: true, lineStyle: { color: GRID_LINE, width: 1 } }
  });
  yAxes.push({
    gridIndex: gi, type: 'value', position: 'left', min: SLOPE_MIN, max: SLOPE_MAX, interval: SLOPE_STEP,
    name: 'Power Density Slopes (dB)', nameLocation: 'middle', nameGap: 33, nameRotate: 90,
    nameTextStyle: AXIS_FONT,
    axisLine: { show: true, onZero: false, lineStyle: { color: '#000', width: 1.5 } },
    axisTick: { show: true, length: 5, lineStyle: { color: '#000', width: 1 } },
    axisLabel: { margin: 9, fontFamily: SANS, fontSize: 12, color: '#000' },
    splitLine: { show: true, lineStyle: { color: GRID_LINE, width: 1 } }
  });
  yAxes.push({
    gridIndex: gi, type: 'value', position: 'right', min: PWR_MIN, max: PWR_MAX, interval: PWR_STEP,
    name: 'Cartridge Power in 100 MHz BW (dBm', nameLocation: 'middle', nameGap: 34, nameRotate: 90,
    nameTextStyle: AXIS_FONT,
    axisLine: { show: true, onZero: false, lineStyle: { color: '#000', width: 1.5 } },
    axisTick: { show: true, length: 5, lineStyle: { color: '#000', width: 1 } },
    axisLabel: { margin: 9, fontFamily: SANS, fontSize: 12, color: '#000' },
    splitLine: { show: false }
  });

  const d = TRACES[gi], yl = 2 * gi, yr = 2 * gi + 1;
  series.push(
    trace(SERIES_NAMES[0], gi, yl, toPoints(...d.lsbRaw), C_LSB, 1, 2),
    trace(SERIES_NAMES[1], gi, yl, toPoints(...d.usbRaw), C_USB, 1, 3),
    trace(SERIES_NAMES[0], gi, yl, toPoints(...d.lsbAvg), C_LSB, 3, 4),
    trace(SERIES_NAMES[1], gi, yl, toPoints(...d.usbAvg), C_USB, 3, 5),
    trace(SERIES_NAMES[2], gi, yl, SPEC_SLOPE, C_SPEC, 3.5, 6, [22, 7]),
    trace(SERIES_NAMES[3], gi, yr, toPoints(...d.pLsbRaw), C_PLSB, 1, 7),
    trace(SERIES_NAMES[4], gi, yr, toPoints(...d.pUsbRaw), C_PUSB, 1, 8),
    trace(SERIES_NAMES[3], gi, yr, toPoints(...d.pLsbAvg), C_PLSB, 3, 9),
    trace(SERIES_NAMES[4], gi, yr, toPoints(...d.pUsbAvg), C_PUSB, 3, 10)
  );
});

// ---------------- page furniture: table, headings, notes, legends ----------------
function text(x, y, str, style) {
  return { type: 'text', x, y, z: 40, silent: true,
    style: Object.assign({ text: str, fill: '#000', fontFamily: SANS, fontSize: 12.4,
      align: 'left', verticalAlign: 'middle' }, style || {}) };
}
function hline(x1, x2, y, w) {
  return { type: 'line', z: 50, silent: true, shape: { x1, y1: y, x2, y2: y }, style: { stroke: '#000', lineWidth: w } };
}
function vline(x, y1, y2, w) {
  return { type: 'line', z: 50, silent: true, shape: { x1: x, y1, x2: x, y2 }, style: { stroke: '#000', lineWidth: w } };
}

const measureCtx = document.createElement('canvas').getContext('2d');
// row heading with subscripts, drawn rotated so that it reads bottom-to-top
function rowHeading(cx, cy, parts) {
  const main = 29, sub = 19;
  const fontOf = s => `bold ${s ? sub : main}px ${SERIF}`;
  const widths = parts.map(([t, s]) => { measureCtx.font = fontOf(s); return measureCtx.measureText(t).width; });
  let x = -widths.reduce((a, b) => a + b, 0) / 2;
  const children = parts.map(([t, s], i) => {
    const el = { type: 'text', x, y: s ? 9 : 0, silent: true,
      style: { text: t, fill: '#000', fontFamily: SERIF, fontWeight: 'bold', fontSize: s ? sub : main,
        align: 'left', verticalAlign: 'middle' } };
    x += widths[i];
    return el;
  });
  return { type: 'group', x: cx, y: cy, rotation: Math.PI / 2, z: 60, children };
}

const graphics = [
  hline(3, 1944, 3, 3), hline(3, 1944, 53, 3), hline(3, 1944, 557, 3),
  vline(4, 2, 1086, 2.5), vline(67, 2, 1086, 2.5), vline(1013, 2, 1086, 2.5),
  text(540, 28, 'Polarization 0', { fontFamily: SERIF, fontWeight: 'bold', fontSize: 29, align: 'center' }),
  text(1478, 28, 'Polarization 1', { fontFamily: SERIF, fontWeight: 'bold', fontSize: 29, align: 'center' }),
  rowHeading(41, 310, [['T', 0], ['sky', 1], [' + T', 0], ['spillover', 1], [' = 300K', 0]]),
  rowHeading(41, 824, [['T', 0], ['sky', 1], [' + T', 0], ['spillover', 1], [' = 35K', 0]])
];

const LEGEND_ROWS = [17.5, 65, 110.5, 160, 206];
const LEGEND_STYLE = [
  { color: C_LSB, width: 2 }, { color: C_USB, width: 2 }, { color: C_SPEC, width: 3.5, dash: [19, 5] },
  { color: C_PLSB, width: 2 }, { color: C_PUSB, width: 2 }
];

PANELS.forEach(p => {
  const W = p.x1 - p.x0, H = p.y1 - p.y0;
  const fx = f => p.x0 + (f - FREQ_MIN) / (FREQ_MAX - FREQ_MIN) * W;
  const sy = s => p.y0 + (SLOPE_MAX - s) / (SLOPE_MAX - SLOPE_MIN) * H;
  const eqLines = p.pol === 0
    ? ['Equalizer Design: 4 GHz Gain: 22dB   12', 'GHz Gain: 34dB']
    : ['Equalizer Design: 4 GHz Gain: 22dB', '12 GHz Gain: 34dB'];

  // white note boxes over the upper part of the plot
  [p.box1, p.box2].forEach(([f, top, bot]) => graphics.push({
    type: 'rect', z: 30, silent: true,
    shape: { x: fx(f), y: sy(top), width: p.x1 - 2 - fx(f), height: sy(bot) - sy(top) },
    style: { fill: '#fff', stroke: null }
  }));

  graphics.push(
    text(p.info[0], p.info[1], 'Cartridge #:  001', { fontSize: 12.5 }),
    text(p.info[0], p.info[1] + 16, 'WCA:  001, Bias Box:  005', { fontSize: 12.5 }),
    text(p.title[0], p.title[1], 'Band 6 Cartridge Power Density and Power Density Slope', { fontSize: 15, align: 'center' }),
    text(p.title[0], p.title[1] + 19, `Polarization ${p.pol}, Ideal Warm IF Amp with Equalization`, { fontSize: 15, align: 'center' }),
    text(p.meas[0], p.meas[1], 'Measured on:  2006-04-04', { align: 'right', fontSize: 12.6 }),
    text(p.temp[0], p.temp[1], `Input Source Temp = ${p.src}`, { align: 'right' }),
    text(p.eq[0], p.eq[1], eqLines[0], { align: 'right' }),
    text(p.eq[0], p.eq[1] + 16, eqLines[1], { align: 'right' }),
    text(p.footer[0], p.footer[1],
      String.raw`Data File: "\\cvfiler.nrao.edu\cv-cdl-sis\Cartridge\SysEngr\GainSlope\TsysCart001.xls"  Sheet: "Slopes2GHzEq ` + p.sheet + '"',
      { fontSize: 11.7, align: 'center' })
  );

  // legend
  const [lx, ly] = p.legend;
  graphics.push({ type: 'rect', z: 30, silent: true, shape: { x: lx, y: ly, width: 134, height: 238 },
    style: { fill: '#fff', stroke: '#000', lineWidth: 1 } });
  LEGEND_LABELS.forEach((lab, i) => {
    const y = ly + LEGEND_ROWS[i], st = LEGEND_STYLE[i];
    graphics.push({ type: 'line', z: 41, silent: true, shape: { x1: lx + 9, y1: y, x2: lx + 42, y2: y },
      style: { stroke: st.color, lineWidth: st.width, lineDash: st.dash || null } });
    graphics.push(text(lx + 47, y - 7, lab, { verticalAlign: 'top', lineHeight: 14, fontSize: 12.6 }));
  });
});

const chart = echarts.init(document.getElementById('chart'), null, { renderer: 'canvas', width: 1944, height: 1086 });
chart.setOption({
  animation: false,
  backgroundColor: '#fff',
  textStyle: { fontFamily: SANS },
  grid: grids, xAxis: xAxes, yAxis: yAxes, series,
  graphic: { elements: graphics }
});
</script>
</body>
</html>
